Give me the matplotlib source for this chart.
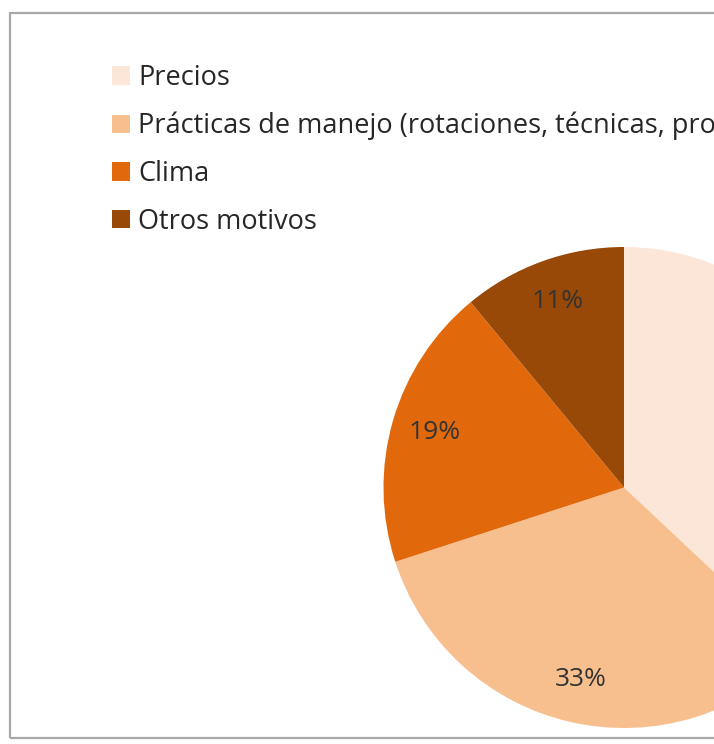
import matplotlib
matplotlib.use("Agg")
import matplotlib.pyplot as plt
from matplotlib.patches import Rectangle, Patch

categories = ["Precios",
              "Prácticas de manejo (rotaciones, técnicas, producción)",
              "Clima",
              "Otros motivos"]
values = [37, 33, 19, 11]
colors = ["#FCE6D7", "#F8BF8E", "#E2690B", "#984807"]

plt.rcParams['font.family'] = ['Open Sans', 'DejaVu Sans']

W, H = 714, 744
fig = plt.figure(figsize=(W / 100, H / 100), dpi=100)
fig.patch.set_facecolor("white")

# chart area border
fig.add_artist(Rectangle((10 / W, (H - 738) / H), 1.2, (738 - 13) / H,
                         transform=fig.transFigure, fill=False,
                         edgecolor="#A8A8A8", linewidth=1.6))

cx, cy, R = 624, 487.5, 240.5
side = 2.5 * R
ax = fig.add_axes([(cx - side / 2) / W, (H - cy - side / 2) / H, side / W, side / H])
wedges, texts, autotexts = ax.pie(values, colors=colors, startangle=90, counterclock=False,
                                  autopct=lambda p: f"{p:.0f}%", pctdistance=0.82,
                                  wedgeprops=dict(linewidth=0),
                                  textprops=dict(fontsize=19, color="#333333"))
ax.set_xlim(-1.25, 1.25)
ax.set_ylim(-1.25, 1.25)

# legend
handles = [Patch(facecolor=c, edgecolor="none") for c in colors]
fig.legend(handles, categories, loc="upper left",
           bbox_to_anchor=(112 / W, (H - 64) / H),
           frameon=False, fontsize=19.5, labelcolor="#262626",
           handlelength=0.66, handleheight=0.66, handletextpad=0.3,
           labelspacing=0.73, borderaxespad=0, borderpad=0)

fig.savefig("out.png", dpi=100)
